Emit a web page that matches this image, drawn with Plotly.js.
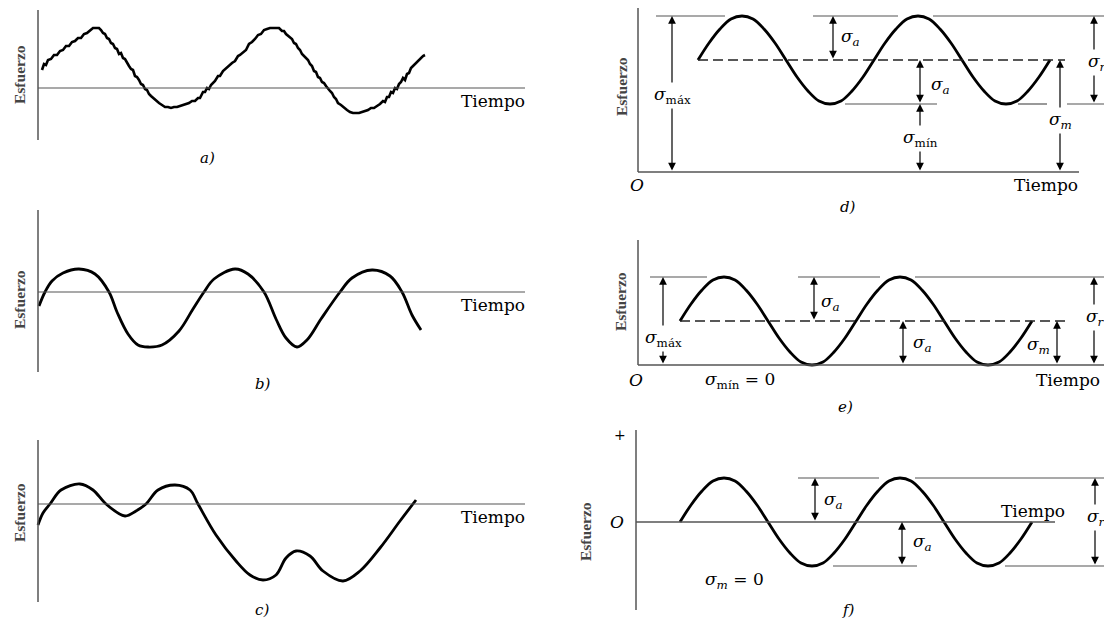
<!DOCTYPE html>
<html><head><meta charset="utf-8">
<script src="https://cdn.plot.ly/plotly-3.0.1.min.js"></script>
<style>html,body{margin:0;padding:0;background:#fff}#chart{width:1104px;height:621px}</style>
</head><body><div id="chart"></div>
<script>
// ---------- DATA (time t, stress sigma) ----------
// a) random-like (noisy) stress history
const aTime = [4,6,8,10,13,16,19,22,25,28,
31,34,37,40,43,46,49,52,55,58,
61,63,65,67,69,71,73,75,77,79,
81,83,85,87,89,91,93,95,97,99,
101,103,105,107,109,111,113,115,118,121,
124,127,130,133,136,139,142,145,148,151,
154,157,160,162,165,167,169,171,173,175,
177,180,182,185,188,191,194,197,200,202,
205,208,211,214,217,220,223,226,229,232,
235,238,241,244,246,248,250,252,254,256,
258,260,262,264,266,268,270,272,274,276,
278,280,282,284,286,288,290,292,294,296,
298,300,303,306,309,312,315,318,321,324,
327,330,333,336,339,342,345,347,349,351,
353,355,357,359,361,363,365,367,369,371,
373,375,377,379,381,383,385,387];
const aStress = [18,24,23,28,29,33,33,37,38,42,
42,46,47,50,50,54,55,58,60,60,
60,58,55,54,50,49,45,44,40,39,
34,35,30,29,25,22,19,18,12,11,
8,4,3,-1,-2,-6,-8,-10,-13,-15,
-17,-19,-19,-20,-19,-19,-18,-17,-16,-15,
-13,-13,-10,-10,-4,-4,0,-1,3,5,
7,12,12,17,20,22,25,27,32,33,
36,38,44,46,49,53,54,58,59,60,
60,60,60,57,57,54,52,50,49,45,
44,40,38,34,32,29,28,24,22,17,
16,11,10,6,5,2,-1,-3,-5,-9,
-11,-15,-17,-20,-22,-24,-25,-25,-25,-24,
-23,-22,-20,-20,-18,-16,-13,-14,-9,-9,
-4,-5,0,-1,4,6,10,8,14,15,
20,22,25,26,28,31,32,33];
// b) irregular periodic history
const bTime = [1,7,14,25,41,57,71,79,90,100,110,124,141,155,166,176,197,210,226,238,248,259,269,283,302,314,334,352,364,374,383];
const bStress = [-14,0,11,19,23,18,0,-20,-42,-53,-55,-53,-39,-17,0,13,23,18,0,-27,-46,-55,-48,-27,0,14,22,16,0,-23,-38];
// c) random history
const cTime = [0,5,12,23,42,55,68,87,98,108,120,137,152,160,178,198,212,225,238,248,258,272,285,305,322,342,362,378];
const cStress = [-21,-9,0,14,20,14,0,-12,-7,0,14,19,14,0,-31,-57,-71,-76,-71,-54,-47,-52,-67,-77,-67,-44,-17,4];
// d) fluctuating stress: [sigma_max, sigma_m, sigma_min]
const dLevels = [156,112,68];
const dTime = [60,71,82,93,104,115,126,137,148,159,170,181,192,203,214,225,236,247,258,269,280,291,302,313,324,335,346,357,368,379,390,401,412];
const dStress = [112,129,143,153,156,153,143,129,112,95,81,71,68,71,81,95,112,129,143,153,156,153,143,129,112,95,81,71,68,71,81,95,112];
// e) repeated stress (sigma_min = 0)
const eLevels = [88,44,0];
const eTime = [42,53,64,75,86,97,108,119,130,141,152,163,174,185,196,207,218,229,240,251,262,273,284,295,306,317,328,339,350,361,372,383,394];
const eStress = [44,61,75,85,88,85,75,61,44,27,13,3,0,3,13,27,44,61,75,85,88,85,75,61,44,27,13,3,0,3,13,27,44];
// f) completely reversed stress (sigma_m = 0)
const fLevels = [44,0,-44];
const fTime = [44,55,66,77,88,99,110,121,132,143,154,165,176,187,198,209,220,231,242,253,264,275,286,297,308,319,330,341,352,363,374,385,396];
const fStress = [0,17,31,41,44,41,31,17,0,-17,-31,-41,-44,-41,-31,-17,0,17,31,41,44,41,31,17,0,-17,-31,-41,-44,-41,-31,-17,0];
const panelLetters = ['a)','b)','c)','d)','e)','f)'];
const yLabel = 'Esfuerzo';
const xLabel = 'Tiempo';

// ---------- LAYOUT ----------
const W = 1104, H = 621;
const P = {
  a:{xa:'x',  ya:'y',  box:[0,550,0,200],     o:[38,88]},
  b:{xa:'x2', ya:'y2', box:[0,550,200,400],   o:[38,292]},
  c:{xa:'x3', ya:'y3', box:[0,550,400,621],   o:[38,504]},
  d:{xa:'x4', ya:'y4', box:[550,1104,0,215],  o:[638,172]},
  e:{xa:'x5', ya:'y5', box:[550,1104,215,415],o:[638,365]},
  f:{xa:'x6', ya:'y6', box:[550,1104,415,621],o:[636,522]}
};
const layout = {width:W, height:H, margin:{l:0,r:0,t:0,b:0}, paper_bgcolor:'#fff',
  plot_bgcolor:'rgba(0,0,0,0)', showlegend:false, shapes:[], annotations:[]};
Object.values(P).forEach(p=>{
  const xk='xaxis'+p.xa.slice(1), yk='yaxis'+p.ya.slice(1);
  layout[xk]={domain:[p.box[0]/W,p.box[1]/W], range:[p.box[0]-p.o[0],p.box[1]-p.o[0]], visible:false, fixedrange:true, anchor:p.ya};
  layout[yk]={domain:[1-p.box[3]/H,1-p.box[2]/H], range:[p.o[1]-p.box[3],p.o[1]-p.box[2]], visible:false, fixedrange:true, anchor:p.xa};
});
const AX='#555', REF='#555';
const SERIF='DejaVu Serif, serif', TIMES='Liberation Serif, serif';
function seg(p,x0,y0,x1,y1,color,width,dash){
  layout.shapes.push({type:'line',xref:p.xa,yref:p.ya,x0:x0,y0:y0,x1:x1,y1:y1,
    line:{color:color||REF,width:width||1.2,dash:dash||'solid'}});
}
const labels=[];
function arrow(p,x,y0,y1){
  layout.annotations.push({xref:p.xa,yref:p.ya,x:x,y:y1,ax:x,ay:y0,axref:p.xa,ayref:p.ya,
    text:'',showarrow:true,arrowside:'end+start',arrowhead:2,startarrowhead:2,
    arrowsize:1.3,startarrowsize:1.3,arrowwidth:1.2,arrowcolor:'#000',standoff:0,startstandoff:0});
}
function txt(p,x,y,text,o){
  o=o||{};
  labels.push(Object.assign({xref:p.xa,yref:p.ya,x:x,y:y,text:text,showarrow:false,
    font:{family:o.family||SERIF,size:o.size||17,color:o.color||'#000',weight:o.weight||'normal'},
    xanchor:o.xanchor||'center',yanchor:'middle',textangle:o.angle||0,
    bgcolor:o.bg?'#fff':'rgba(0,0,0,0)',borderpad:o.bg?1:0}));
}
const sig = s=>'<i>σ</i><sub>'+s+'</sub>';
const sa = sig('<i>a</i>'), sr = sig('<i>r</i>'), sm = sig('<i>m</i>');
const EF = {family:TIMES,size:15.5,color:'#444',angle:-90,weight:'bold'};
const LF = {size:15};

// left column axes + labels
[['a',78,-52,13],['b',82,-80,-8],['c',64,-98,-9]].forEach(([k,top,bot,ey],i)=>{
  const p=P[k];
  seg(p,0,bot,0,top,AX,1.5);
  seg(p,0,0,487,0,AX,1.2);
  txt(p,455,-13,xLabel);
  txt(p,-19,ey,yLabel,EF);
});
txt(P.a,169,-70,'<i>'+panelLetters[0]+'</i>',LF);
txt(P.b,225,-92,'<i>'+panelLetters[1]+'</i>',LF);
txt(P.c,224,-106,'<i>'+panelLetters[2]+'</i>',LF);

// d)
(function(){
  const p=P.d,[mx,mn,mi]=dLevels;
  seg(p,0,0,0,164,AX,1.5); seg(p,0,0,441,0,AX,1.5);
  [[18,87],[175,260],[295,466]].forEach(s=>seg(p,s[0],mx,s[1],mx));
  [[207,299],[380,409],[429,466]].forEach(s=>seg(p,s[0],mi,s[1],mi));
  seg(p,60,mn,427,mn,'#222',1.3,'10px,5px');
  arrow(p,34,0,mx); arrow(p,195,mn,mx); arrow(p,282,mi,mn); arrow(p,282,0,mi);
  arrow(p,456,mi,mx); arrow(p,422,0,mn);
  txt(p,34,77,sig('máx'),{bg:1}); txt(p,202,135,sa,{xanchor:'left'}); txt(p,292,87,sa,{xanchor:'left'});
  txt(p,282,34,sig('mín'),{bg:1}); txt(p,422,52,sm,{bg:1}); txt(p,448,110,sr,{xanchor:'left',bg:1});
  txt(p,-1,-13,'<i>O</i>'); txt(p,408,-13,xLabel); txt(p,210,-35,'<i>'+panelLetters[3]+'</i>',LF);
  txt(p,-17,85,yLabel,EF);
})();
// e)
(function(){
  const p=P.e,[mx,mn,mi]=eLevels;
  seg(p,0,0,0,125,AX,1.5); seg(p,0,mi,466,mi,AX,1.5);
  [[12,69],[160,242],[277,466]].forEach(s=>seg(p,s[0],mx,s[1],mx));
  seg(p,42,mn,427,mn,'#222',1.3,'10px,5px');
  arrow(p,25,mi,mx); arrow(p,176,mn,mx); arrow(p,265,mi,mn); arrow(p,419,mi,mn); arrow(p,456,mi,mx);
  txt(p,25,27,sig('máx'),{bg:1}); txt(p,182,63,sa,{xanchor:'left'}); txt(p,274,22,sa,{xanchor:'left'});
  txt(p,413,20,sm,{xanchor:'right'}); txt(p,446,48,sr,{xanchor:'left',bg:1});
  txt(p,-2,-15,'<i>O</i>'); txt(p,102,-15,sig('mín')+' = 0'); txt(p,430,-15,xLabel);
  txt(p,207,-42,'<i>'+panelLetters[4]+'</i>',LF);
  txt(p,-18,63,yLabel,EF);
})();
// f)
(function(){
  const p=P.f,[mx,mn,mi]=fLevels;
  seg(p,0,-88,0,92,AX,1.5); seg(p,0,mn,419,mn,AX,1.3);
  [[162,243],[279,468]].forEach(s=>seg(p,s[0],mx,s[1],mx));
  [[197,281],[369,468]].forEach(s=>seg(p,s[0],mi,s[1],mi));
  arrow(p,179,mn,mx); arrow(p,266,mi,mn); arrow(p,459,mi,mx);
  txt(p,187,22,sa,{xanchor:'left'}); txt(p,276,-20,sa,{xanchor:'left'}); txt(p,449,5,sr,{xanchor:'left',bg:1});
  txt(p,-16,87,'+',{size:14}); txt(p,-19,0,'<i>O</i>'); txt(p,397,11,xLabel);
  txt(p,98,-58,sm+' = 0'); txt(p,212,-88,'<i>'+panelLetters[5]+'</i>',LF);
  txt(p,-51,-10,yLabel,EF);
})();
layout.annotations = layout.annotations.concat(labels);

function curve(p,x,y,shape,w){
  return {x:x,y:y,xaxis:p.xa,yaxis:p.ya,mode:'lines',hoverinfo:'skip',
    line:{color:'#000',width:w||2.8,shape:shape||'spline',smoothing:1}};
}
const data=[
  curve(P.a,aTime,aStress,'linear',2.6),
  curve(P.b,bTime,bStress),
  curve(P.c,cTime,cStress),
  curve(P.d,dTime,dStress),
  curve(P.e,eTime,eStress),
  curve(P.f,fTime,fStress)
];
Plotly.newPlot('chart',data,layout,{staticPlot:true,displayModeBar:false});
</script></body></html>
